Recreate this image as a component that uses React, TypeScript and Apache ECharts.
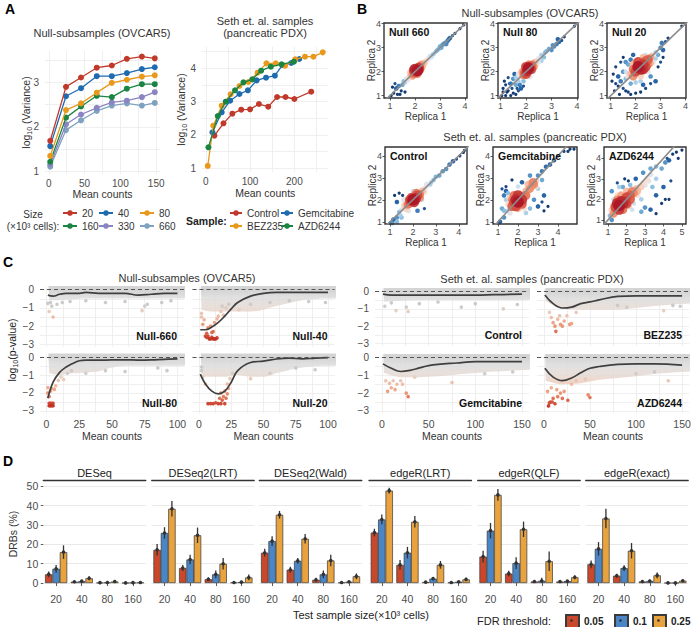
import React, { useEffect, useRef } from 'react';
import * as echarts from 'echarts';

const FONT = '"Liberation Sans", Arial, Helvetica, sans-serif';

/* ---------------- Panel A data ---------------- */
const aNullX = [2, 24, 45, 67, 88, 109, 130, 148];
const aNull20 = [1.69, 2.9, 3.11, 3.33, 3.38, 3.53, 3.58, 3.54];
const aNull40 = [1.57, 2.69, 2.87, 3.14, 3.14, 3.21, 3.3, 3.34];
const aNull80 = [1.35, 2.38, 2.53, 2.77, 2.99, 3.06, 3.13, 3.16];
const aNull160 = [1.22, 2.21, 2.46, 2.7, 2.67, 2.86, 2.96, 2.96];
const aNull330 = [1.16, 2.06, 2.28, 2.43, 2.55, 2.59, 2.67, 2.78];
const aNull660 = [1.11, 1.93, 2.15, 2.36, 2.48, 2.53, 2.48, 2.54];
const aSizeNames = ['20', '40', '80', '160', '330', '660'];

const aControlX = [19.5, 40, 60, 80, 100, 120, 141, 161, 180, 200, 238];
const aControlY = [1.98, 2.35, 2.64, 2.76, 2.77, 2.93, 2.85, 3.14, 3.14, 3.08, 3.3];
const aGemX = [15, 36, 55, 76, 95, 115, 136, 156, 173, 193, 211];
const aGemY = [2.08, 2.68, 3.03, 3.23, 3.34, 3.64, 3.72, 3.78, 4.1, 4.16, 4.28];
const aBezX = [4.5, 17, 36, 56, 76, 96, 117, 137, 158, 179, 202, 224, 243, 264];
const aBezY = [1.07, 2.28, 2.88, 3.22, 3.47, 3.59, 3.87, 4.15, 4.15, 4.08, 4.27, 4.35, 4.35, 4.48];
const aAzdX = [6, 27, 45, 66, 85, 105, 125, 147, 171, 199];
const aAzdY = [1.63, 2.57, 3.0, 3.34, 3.58, 3.67, 3.93, 4.05, 4.12, 4.2];
const aSampleNames = ['Control', 'Gemcitabine', 'BEZ235', 'AZD6244'];

/* ---------------- Panel B data: [replica1, replica2, density] ---------------- */
const bNull660 = [
  [1.05, 1.0, 0], [1.15, 1.1, 0], [1.3, 1.05, 0], [1.45, 1.2, 0], [1.6, 1.15, 0], [1.2, 1.5, 0.05], [1.25, 1.3, 0.1],
  [1.35, 1.4, 0.15], [1.5, 1.45, 0.25], [1.55, 1.6, 0.3], [1.65, 1.7, 0.4], [1.75, 1.75, 0.5], [1.85, 1.85, 0.62],
  [1.95, 1.9, 0.75], [2.05, 2.0, 0.9], [2.0, 2.1, 0.95], [2.1, 2.05, 1], [2.15, 2.15, 0.9], [1.95, 2.05, 0.85],
  [2.2, 2.1, 0.75], [2.25, 2.3, 0.65], [2.35, 2.35, 0.58], [2.45, 2.45, 0.52], [2.55, 2.55, 0.45], [2.65, 2.6, 0.4],
  [2.75, 2.75, 0.35], [2.85, 2.85, 0.3], [2.95, 2.95, 0.28], [3.05, 3.0, 0.25], [3.1, 3.12, 0.22], [3.2, 3.2, 0.2],
  [3.3, 3.28, 0.15], [3.4, 3.4, 0.1], [3.5, 3.5, 0.05], [3.6, 3.6, 0.02], [3.8, 3.8, 0], [3.95, 3.95, 0],
  [1.1, 1.35, 0], [1.4, 1.05, 0], [1.9, 1.8, 0.6], [2.2, 2.25, 0.7], [1.8, 1.95, 0.55], [2.3, 2.2, 0.6],
  [2.1, 1.9, 0.7], [1.7, 1.65, 0.45], [2.4, 2.35, 0.5], [1.6, 1.55, 0.35], [2.6, 2.65, 0.4], [2.9, 2.9, 0.3],
  [3.15, 3.15, 0.2], [3.25, 3.15, 0.18], [3.35, 3.35, 0.12], [3.0, 3.05, 0.25], [2.7, 2.7, 0.3]
];
const bNull80 = [
  [1.05, 1.0, 0], [1.1, 1.3, 0], [1.15, 1.6, 0], [1.2, 1.45, 0.02], [1.3, 1.75, 0.05], [1.25, 1.15, 0], [1.4, 1.0, 0],
  [1.5, 1.1, 0], [1.6, 1.05, 0], [1.7, 1.2, 0.05], [1.8, 1.3, 0.1], [1.4, 1.5, 0.15], [1.5, 1.7, 0.2], [1.6, 1.45, 0.25],
  [1.55, 1.9, 0.1], [1.7, 1.6, 0.35], [1.8, 1.8, 0.5], [1.85, 2.0, 0.65], [1.95, 1.95, 0.8], [2.05, 2.05, 0.95],
  [2.1, 2.15, 1], [2.0, 2.2, 0.85], [2.2, 2.1, 0.85], [2.25, 2.3, 0.7], [2.35, 2.4, 0.58], [2.15, 1.8, 0.45],
  [1.9, 2.25, 0.4], [2.5, 2.55, 0.45], [2.6, 2.7, 0.35], [2.7, 2.6, 0.3], [2.8, 2.85, 0.28], [2.9, 2.95, 0.25],
  [3.0, 2.9, 0.2], [3.05, 3.1, 0.2], [3.2, 3.15, 0.15], [3.25, 3.35, 0.1], [3.4, 3.3, 0.05], [3.5, 3.45, 0.02],
  [3.9, 3.9, 0], [1.9, 1.6, 0.3], [2.3, 2.0, 0.4], [1.9, 1.85, 0.7], [2.0, 1.9, 0.85], [2.2, 2.25, 0.8],
  [2.3, 2.2, 0.7], [2.1, 2.3, 0.7], [1.7, 1.9, 0.45], [2.4, 2.3, 0.5], [2.5, 2.4, 0.42], [1.6, 1.75, 0.35],
  [1.1, 1.15, 0], [1.2, 1.0, 0], [1.3, 1.2, 0], [1.35, 1.5, 0.05], [1.45, 1.3, 0.05], [1.65, 1.3, 0.05],
  [1.75, 1.45, 0.15], [1.9, 1.4, 0.05], [2.6, 2.45, 0.35], [2.75, 2.8, 0.3], [3.1, 3.05, 0.2], [3.3, 3.25, 0.12]
];
const bNull20 = [
  [1.05, 1.6, 0], [1.1, 1.9, 0], [1.2, 2.2, 0.02], [1.3, 1.4, 0], [1.15, 1.2, 0], [1.4, 2.4, 0.05], [1.5, 2.6, 0],
  [1.35, 1.05, 0], [1.6, 1.2, 0], [1.8, 1.05, 0], [2.0, 1.1, 0], [2.2, 1.15, 0], [2.4, 1.3, 0.02], [2.6, 1.5, 0.05],
  [2.8, 1.6, 0.1], [1.6, 1.7, 0.3], [1.5, 2.0, 0.2], [1.7, 2.3, 0.25], [1.8, 1.5, 0.25], [2.0, 1.55, 0.35],
  [1.8, 1.9, 0.6], [1.9, 2.1, 0.75], [2.0, 2.0, 0.85], [2.1, 2.2, 1], [2.2, 2.1, 0.95], [2.3, 2.3, 0.9],
  [2.4, 2.45, 0.8], [2.5, 2.3, 0.7], [2.6, 2.6, 0.65], [2.0, 2.4, 0.6], [2.2, 1.8, 0.55], [2.7, 2.4, 0.45],
  [2.4, 2.7, 0.4], [2.8, 2.8, 0.35], [2.9, 2.7, 0.25], [3.0, 3.0, 0.2], [3.1, 2.9, 0.1], [3.05, 3.2, 0.15],
  [3.2, 3.25, 0.05], [3.3, 3.4, 0.02], [3.1, 2.6, 0], [2.9, 2.2, 0], [3.85, 3.9, 0], [1.9, 2.7, 0.1],
  [1.9, 1.8, 0.7], [2.3, 2.1, 0.9], [2.1, 2.4, 0.85], [2.5, 2.5, 0.8], [2.4, 2.2, 0.85], [1.7, 1.8, 0.5],
  [1.9, 2.3, 0.6], [2.6, 2.35, 0.6], [2.3, 2.6, 0.6], [2.7, 2.7, 0.5], [1.6, 2.0, 0.4], [2.5, 2.0, 0.45],
  [2.2, 1.6, 0.35], [2.8, 2.55, 0.35], [1.4, 1.6, 0.15], [1.3, 1.8, 0.1], [1.2, 1.5, 0.02], [1.5, 1.3, 0.05],
  [1.7, 1.15, 0.02], [2.3, 1.45, 0.1], [2.6, 1.8, 0.2], [3.0, 2.4, 0.05], [1.6, 2.4, 0.2], [1.8, 2.5, 0.15]
];
const bControl = [
  [1.0, 0.95, 0.05], [1.15, 1.1, 0.1], [1.3, 1.2, 0.2], [1.4, 1.45, 0.3], [1.5, 1.55, 0.4], [1.6, 1.6, 0.5],
  [1.7, 1.75, 0.62], [1.8, 1.8, 0.75], [1.9, 1.95, 0.88], [2.0, 2.0, 1], [2.1, 2.05, 0.95], [1.95, 2.1, 0.85],
  [2.2, 2.2, 0.85], [2.3, 2.25, 0.72], [2.4, 2.4, 0.6], [2.5, 2.5, 0.5], [2.6, 2.6, 0.42], [2.75, 2.7, 0.35],
  [2.9, 2.9, 0.3], [3.0, 3.05, 0.28], [3.15, 3.1, 0.25], [3.3, 3.3, 0.22], [3.45, 3.4, 0.2], [3.6, 3.6, 0.15],
  [3.75, 3.75, 0.1], [3.9, 3.85, 0.05], [4.05, 4.0, 0.02], [4.2, 4.15, 0], [4.25, 4.25, 0], [1.2, 2.2, 0],
  [1.4, 2.3, 0], [1.55, 2.2, 0.02], [1.3, 1.9, 0.1], [2.5, 1.6, 0.05], [2.2, 1.5, 0.15], [1.5, 1.2, 0.3],
  [1.8, 1.5, 0.45], [1.6, 2.0, 0.45], [2.4, 2.0, 0.4], [2.0, 2.4, 0.4], [1.3, 1.0, 0.3], [1.1, 0.95, 0.2],
  [2.05, 1.9, 0.9], [1.85, 2.0, 0.8], [2.15, 2.3, 0.75], [2.3, 2.1, 0.7], [1.7, 1.6, 0.55], [2.5, 2.35, 0.5],
  [2.6, 2.7, 0.45], [1.6, 1.75, 0.5], [1.45, 1.3, 0.35], [2.8, 2.8, 0.35]
];
const bGemcitabine = [
  [1.1, 1.0, 0.1], [1.3, 1.2, 0.2], [1.5, 1.5, 0.35], [1.6, 1.8, 0.55], [1.7, 2.0, 0.7], [1.8, 1.9, 0.85],
  [1.9, 2.0, 0.95], [2.0, 1.9, 1], [2.1, 2.1, 0.9], [2.2, 1.8, 0.8], [1.8, 2.2, 0.75], [2.3, 2.2, 0.7],
  [2.4, 2.4, 0.62], [2.55, 2.5, 0.6], [2.7, 2.65, 0.68], [2.8, 2.7, 0.7], [2.6, 2.75, 0.55], [2.9, 2.6, 0.5],
  [2.0, 1.6, 0.6], [1.6, 1.4, 0.45], [1.4, 2.0, 0.35], [1.5, 2.3, 0.3], [1.3, 2.2, 0.15], [1.2, 2.5, 0.05],
  [1.4, 2.6, 0.02], [1.7, 2.9, 0], [2.2, 2.8, 0.1], [2.6, 3.1, 0.2], [3.0, 3.1, 0.2], [3.2, 3.3, 0.15],
  [3.4, 3.5, 0.12], [3.6, 3.6, 0.1], [3.8, 3.8, 0.08], [4.0, 4.0, 0.05], [4.3, 4.2, 0.02], [4.6, 4.3, 0],
  [4.8, 4.3, 0], [4.5, 4.2, 0], [2.8, 2.0, 0.2], [3.0, 1.7, 0.1], [3.3, 1.5, 0], [3.5, 1.7, 0], [3.2, 1.9, 0.05],
  [2.6, 1.6, 0.3], [2.4, 1.4, 0.35], [1.2, 1.6, 0.25], [1.7, 1.7, 0.8], [2.0, 2.2, 0.9], [2.2, 2.0, 0.9],
  [1.9, 1.7, 0.85], [2.4, 2.2, 0.75], [2.6, 2.5, 0.7], [2.75, 2.8, 0.72], [2.5, 2.7, 0.6], [2.9, 2.85, 0.55],
  [1.6, 2.1, 0.55], [2.3, 1.6, 0.5], [1.5, 1.8, 0.5], [3.0, 2.5, 0.35], [2.0, 2.6, 0.4], [1.3, 1.5, 0.3],
  [3.2, 2.9, 0.25], [1.4, 2.4, 0.1], [3.3, 2.2, 0.1]
];
const bAZD6244 = [
  [1.1, 1.2, 0.3], [1.2, 1.5, 0.55], [1.4, 1.6, 0.85], [1.5, 1.8, 0.95], [1.6, 1.7, 1], [1.7, 1.9, 0.95],
  [1.9, 1.9, 0.9], [2.0, 2.1, 0.85], [2.2, 2.2, 0.8], [2.3, 2.4, 0.72], [2.5, 2.5, 0.62], [2.7, 2.6, 0.55],
  [2.9, 2.8, 0.52], [3.1, 3.0, 0.5], [3.3, 3.2, 0.45], [1.3, 1.3, 0.7], [1.8, 1.5, 0.75], [2.1, 1.7, 0.6],
  [1.5, 2.2, 0.5], [1.3, 2.0, 0.4], [2.4, 1.8, 0.4], [2.6, 2.2, 0.5], [1.2, 2.4, 0.2], [1.8, 2.6, 0.25],
  [1.5, 2.8, 0.05], [1.9, 3.0, 0], [2.1, 2.9, 0], [2.5, 3.0, 0.1], [2.9, 3.3, 0.2], [3.3, 3.5, 0.25],
  [3.6, 3.6, 0.3], [3.9, 3.5, 0.25], [4.1, 3.8, 0.2], [4.3, 3.9, 0.1], [4.5, 4.2, 0], [4.7, 4.3, 0],
  [5.0, 4.4, 0], [4.8, 4.0, 0], [4.2, 4.0, 0.05], [3.0, 1.6, 0.2], [3.3, 1.5, 0.1], [3.6, 1.3, 0], [3.9, 1.8, 0],
  [4.1, 2.0, 0], [4.3, 2.0, 0], [3.6, 2.2, 0.1], [2.8, 1.4, 0.25], [4.0, 2.6, 0.1], [4.4, 2.9, 0.05],
  [1.6, 1.5, 0.9], [1.8, 1.8, 0.95], [2.0, 1.8, 0.85], [2.2, 2.0, 0.8], [2.4, 2.3, 0.7], [1.5, 2.0, 0.7],
  [1.7, 2.2, 0.65], [2.0, 2.4, 0.6], [2.6, 2.4, 0.6], [2.8, 2.6, 0.55], [3.0, 2.7, 0.45], [3.2, 2.9, 0.45],
  [1.3, 1.7, 0.6], [1.2, 1.0, 0.2], [2.3, 1.5, 0.4], [2.8, 2.0, 0.35], [3.4, 2.6, 0.3], [3.6, 3.0, 0.35],
  [1.6, 2.6, 0.35], [2.2, 2.7, 0.3]
];
const bNames = ['Null 660', 'Null 80', 'Null 20', 'Control', 'Gemcitabine', 'AZD6244'];

/* ---------------- Panel C data ---------------- */
const cxNull = [1, 5, 10, 15, 20, 25, 30, 40, 50, 60, 70, 80, 90, 100];
const cxSeth = [1, 10, 20, 30, 40, 50, 60, 80, 100, 120, 150];

const cNull660Smooth = [-0.3, -0.35, -0.25, -0.2, -0.2, -0.2, -0.15, -0.2, -0.2, -0.2, -0.3, -0.25, -0.2, -0.2];
const cNull660Top = [-0.02, -0.02, -0.02, -0.02, -0.02, -0.02, -0.02, -0.02, -0.02, -0.02, -0.02, -0.02, -0.02, -0.02];
const cNull660Low = [-0.6, -0.6, -0.55, -0.5, -0.5, -0.5, -0.5, -0.5, -0.5, -0.5, -0.55, -0.55, -0.5, -0.5];
const cNull660Pts = [[2, -1.2], [5, -1.5], [4, -0.9], [8, -0.8], [12, -0.7], [18, -0.65], [30, -0.6], [45, -0.7], [60, -0.65],
  [73, -1.15], [75, -0.9], [77, -0.8], [88, -0.7], [95, -0.6], [1, -0.75], [3, -0.7]];

const cNull40Smooth = [-2.2, -2.2, -2.05, -1.8, -1.45, -1.05, -0.7, -0.35, -0.2, -0.15, -0.15, -0.15, -0.15, -0.15];
const cNull40Top = [-1.3, -1.2, -1.1, -0.9, -0.6, -0.3, -0.1, -0.02, -0.02, -0.02, -0.02, -0.02, -0.02, -0.02];
const cNull40Low = [-2.4, -2.4, -2.3, -2.1, -1.8, -1.4, -1.0, -0.6, -0.5, -0.5, -0.5, -0.5, -0.5, -0.5];
const cNull40Pts = [[5, -2.55], [6, -2.62], [7, -2.55], [8, -2.7], [9, -2.7], [10, -2.62], [11, -2.7], [12, -2.7], [13, -2.7],
  [14, -2.65], [10, -2.35], [11, -2.3], [6, -2.4], [3, -1.9], [2, -1.5], [2, -1.3], [4, -1.65], [7, -2.1], [9, -2.0],
  [12, -1.8], [14, -1.6], [15, -1.45], [17, -1.2], [19, -1.4], [21, -1.0], [18, -0.9], [23, -0.8], [31, -1.1],
  [40, -0.8], [55, -0.7], [70, -0.6], [85, -0.65], [98, -0.7]];

const cNull80Smooth = [-2.3, -1.4, -0.85, -0.55, -0.35, -0.2, -0.17, -0.17, -0.15, -0.15, -0.16, -0.15, -0.12, -0.1];
const cNull80Top = [-1.5, -1.0, -0.5, -0.15, -0.02, -0.02, -0.02, -0.02, -0.02, -0.02, -0.02, -0.02, -0.02, -0.02];
const cNull80Low = [-2.4, -2.0, -1.4, -1.0, -0.8, -0.6, -0.5, -0.5, -0.5, -0.5, -0.5, -0.5, -0.5, -0.5];
const cNull80Pts = [[2, -2.58], [3, -2.58], [4, -2.58], [5, -2.58], [2, -2.72], [3, -2.72], [4, -2.72], [5, -2.72], [1, -2.0],
  [2, -2.2], [3, -1.9], [1, -1.7], [4, -1.75], [6, -1.8], [7, -1.6], [9, -1.3], [11, -1.1], [13, -1.25], [16, -0.9],
  [19, -0.75], [30, -0.9], [45, -0.75], [60, -0.8], [85, -0.6], [92, -0.75]];

const cNull20Smooth = [-0.95, -1.5, -1.9, -2.05, -1.9, -1.4, -0.75, -0.3, -0.22, -0.1, -0.05, -0.1, -0.05, -0.02];
const cNull20Top = [-0.4, -0.8, -1.1, -1.3, -1.1, -0.6, -0.2, -0.02, -0.02, -0.02, -0.02, -0.02, -0.02, -0.02];
const cNull20Low = [-1.5, -1.9, -2.2, -2.3, -2.2, -1.7, -1.1, -0.6, -0.5, -0.5, -0.5, -0.5, -0.5, -0.5];
const cNull20Pts = [[7, -2.6], [9, -2.6], [11, -2.6], [13, -2.55], [15, -2.6], [16, -2.3], [17, -2.6], [18, -2.4], [19, -2.2],
  [20, -2.6], [21, -2.3], [22, -2.05], [17, -2.0], [20, -1.9], [2, -0.55], [2, -0.75], [3, -1.1], [5, -1.5], [22, -1.5],
  [23, -1.75], [24, -1.2], [26, -0.9], [40, -1.2], [55, -0.9], [75, -0.6], [90, -0.7]];

const cControlSmooth = [-0.15, -0.2, -0.2, -0.2, -0.2, -0.2, -0.2, -0.2, -0.2, -0.18, -0.15];
const cControlTop = [-0.02, -0.02, -0.02, -0.02, -0.02, -0.02, -0.02, -0.02, -0.02, -0.02, -0.02];
const cControlLow = [-0.6, -0.55, -0.5, -0.5, -0.5, -0.5, -0.5, -0.5, -0.5, -0.5, -0.5];
const cControlPts = [[3, -0.85], [15, -1.1], [28, -1.15], [26, -0.9], [40, -0.7], [60, -0.6], [85, -0.9], [100, -0.7],
  [130, -1.0], [145, -0.75], [10, -0.65]];

const cBezSmooth = [-0.2, -0.7, -0.95, -0.9, -0.7, -0.6, -0.48, -0.28, -0.25, -0.25, -0.25];
const cBezTop = [-0.05, -0.3, -0.5, -0.35, -0.15, -0.05, -0.02, -0.02, -0.02, -0.02, -0.02];
const cBezLow = [-0.6, -1.3, -1.55, -1.4, -1.2, -1.0, -0.85, -0.7, -0.6, -0.6, -0.6];
const cBezPts = [[13, -2.3], [10, -1.8], [12, -2.0], [15, -1.6], [18, -1.9], [20, -2.0], [22, -1.7], [28, -1.9], [30, -1.85],
  [8, -1.5], [25, -1.4], [35, -1.2], [6, -1.2], [17, -1.4], [80, -0.8], [90, -0.9], [130, -1.1], [140, -0.8], [148, -0.85]];

const cGemSmooth = [-0.35, -0.6, -0.78, -0.72, -0.58, -0.45, -0.38, -0.3, -0.22, -0.22, -0.22];
const cGemTop = [-0.05, -0.2, -0.35, -0.25, -0.1, -0.03, -0.02, -0.02, -0.02, -0.02, -0.02];
const cGemLow = [-0.9, -1.3, -1.45, -1.3, -1.05, -0.9, -0.8, -0.7, -0.65, -0.6, -0.6];
const cGemPts = [[6, -1.9], [10, -1.7], [14, -1.8], [16, -1.5], [12, -1.3], [20, -1.3], [26, -2.0], [28, -2.2], [22, -1.5],
  [35, -1.1], [4, -1.3], [8, -1.45], [75, -1.4], [110, -0.9], [140, -0.8]];

const cAzdSmooth = [-0.6, -1.1, -1.3, -1.15, -0.85, -0.6, -0.5, -0.38, -0.35, -0.35, -0.42];
const cAzdTop = [-0.1, -0.5, -0.65, -0.45, -0.25, -0.1, -0.03, -0.02, -0.02, -0.02, -0.02];
const cAzdLow = [-1.4, -2.0, -2.1, -1.7, -1.4, -1.15, -0.95, -0.8, -0.75, -0.75, -0.8];
const cAzdPts = [[5, -2.72], [6, -2.55], [7, -2.5], [9, -2.5], [12, -2.6], [20, -2.3], [26, -2.4], [50, -2.25], [48, -2.1],
  [15, -2.2], [10, -2.3], [18, -2.0], [22, -1.9], [14, -1.8], [30, -1.5], [35, -1.3], [45, -1.2], [4, -1.9], [8, -1.7],
  [135, -1.3], [100, -0.9], [120, -0.8]];

/* ---------------- Panel D data (% DRBs, rows = FDR 0.05 / 0.1 / 0.25, cols = size) ---------------- */
const dCats = ['20', '40', '80', '160'];
const dMethods = ['DESeq', 'DESeq2(LRT)', 'DESeq2(Wald)', 'edgeR(LRT)', 'edgeR(QLF)', 'edgeR(exact)'];
const dThresholds = ['0.05', '0.1', '0.25'];
const dDESeq = [[4.5, 0.7, 0.2, 0.1], [7.4, 1.0, 0.3, 0.2], [16, 2.5, 0.8, 0.3]];
const dDESeq2LRT = [[17.2, 7.8, 2.0, 0.3], [25.9, 12.2, 4.5, 0.5], [38.4, 24.7, 10, 2.9]];
const dDESeq2Wald = [[15.7, 6.9, 1.7, 0.3], [21.7, 11.5, 4.5, 0.7], [35.3, 22.9, 11.7, 3.5]];
const dEdgeRLRT = [[26.1, 9.4, 0.5, 0.3], [32.9, 15.7, 2.3, 0.7], [47.8, 31.7, 9.4, 1.9]];
const dEdgeRQLF = [[13.7, 4.9, 0.8, 0.8], [27.1, 10.3, 1.2, 1.0], [45.6, 27.8, 11.3, 3.0]];
const dEdgeRExact = [[9.7, 3.8, 0.8, 0.1], [17.7, 7.7, 1.1, 0.1], [33.4, 16.7, 4.0, 1.2]];
const dDESeqErr = [[1.5, 0.4, 0.2, 0.1], [2, 0.5, 0.2, 0.1], [3.5, 1, 0.5, 0.2]];
const dDESeq2LRTErr = [[3, 1.5, 1, 0.3], [3, 2.5, 2, 0.5], [4, 4, 3, 1.5]];
const dDESeq2WaldErr = [[2, 1.5, 1, 0.3], [2.5, 1.5, 2, 0.5], [2, 2.5, 3, 1.5]];
const dEdgeRLRTErr = [[2, 2.5, 0.5, 0.3], [2.5, 3, 0.6, 0.3], [1.5, 3, 2, 0.8]];
const dEdgeRQLFErr = [[3, 1.5, 0.5, 0.5], [4, 3, 1.5, 0.4], [3, 4, 5, 1]];
const dEdgeRExactErr = [[2, 1, 0.4, 0.2], [3.5, 1.5, 0.5, 0.2], [5, 4, 1.5, 0.6]];

/* ---------------- helpers ---------------- */
const rgb = (c: number[]) => `rgb(${c[0]},${c[1]},${c[2]})`;
function ramp(stops: any[], t: number) {
  if (t <= stops[0][0]) return rgb(stops[0][1]);
  for (let i = 1; i < stops.length; i++) {
    if (t <= stops[i][0]) {
      const [t0, c0] = stops[i - 1];
      const [t1, c1] = stops[i];
      const f = (t - t0) / (t1 - t0);
      return rgb(c0.map((v: number, k: number) => Math.round(v + (c1[k] - v) * f)));
    }
  }
  return rgb(stops[stops.length - 1][1]);
}
const densStops = [[0, [8, 48, 107]], [0.12, [33, 102, 172]], [0.28, [120, 180, 218]], [0.42, [215, 230, 243]],
  [0.52, [250, 222, 208]], [0.66, [243, 160, 125]], [0.82, [218, 86, 66]], [1, [172, 22, 40]]];
const pStops = [[0.8, [200, 200, 200]], [1.1, [228, 205, 192]], [1.6, [240, 180, 152]], [2.1, [230, 135, 100]],
  [2.5, [210, 80, 55]], [2.7, [195, 50, 35]]];

const minusFmt = (v: any) => (Number(v) < 0 ? '\u2212' + Math.abs(Number(v)) : String(v));

function buildOption() {
  const grid: any[] = [];
  const xAxis: any[] = [];
  const yAxis: any[] = [];
  const series: any[] = [];
  const legend: any[] = [];
  const graphic: any[] = [];

  const addGrid = (left: number, top: number, width: number, height: number, extra: any = {}) => {
    grid.push({ left, top, width, height, containLabel: false, outerBoundsMode: 'none', ...extra });
    return grid.length - 1;
  };
  const text = (x: number, y: number, t: string, o: any = {}) => {
    graphic.push({
      type: 'text', x, y, rotation: o.rotation || 0, silent: true, z: 50,
      style: {
        text: t, fontSize: o.fs || 11, fontWeight: o.bold ? 'bold' : 'normal', fill: o.color || '#222',
        fontFamily: FONT, textAlign: o.align || 'center', textVerticalAlign: 'middle', rich: o.rich
      }
    });
  };
  const vAxis = (gi: number, min: number, max: number, ticks: number[], o: any = {}) => {
    const ax: any = {
      type: 'value', gridIndex: gi, min, max,
      axisLine: { show: false },
      axisTick: { show: !!o.tick, length: 2.5, customValues: o.tickVals || ticks, lineStyle: { color: '#333', width: 0.8 } },
      axisLabel: {
        show: o.label !== false, customValues: ticks, color: '#4D4D4D', fontSize: o.fs || 10, margin: o.margin ?? 4,
        fontFamily: FONT, formatter: o.fmt
      },
      splitLine: o.split === false ? { show: false } : { show: true, lineStyle: { color: o.splitColor || '#EBEBEB', width: 0.8 } },
      nameMoveOverlap: false
    };
    if (o.name) {
      ax.name = o.name;
      ax.nameLocation = 'middle';
      ax.nameGap = o.nameGap;
      ax.nameTextStyle = { fontSize: o.nameFs || 10.5, color: '#333', fontFamily: FONT, rich: o.nameRich };
    }
    return ax;
  };
  const logRich = {
    a: { fontSize: 10.5, color: '#333', fontFamily: FONT, lineHeight: 14 },
    s: { fontSize: 7, color: '#333', fontFamily: FONT, verticalAlign: 'bottom', lineHeight: 14 }
  };

  /* ---------- Panel A ---------- */
  const aColors = ['#C0392B', '#1F6BB0', '#E8991C', '#1A8442', '#8B84C2', '#7EA2BF'];
  const gA1 = addGrid(45, 51, 115, 123);
  xAxis.push(vAxis(gA1, -5.3, 155.3, [0, 50, 100, 150], { name: 'Mean counts', nameGap: 14, tickVals: [0, 25, 50, 75, 100, 125, 150] }));
  yAxis.push(vAxis(gA1, 0.945, 3.705, [1, 2, 3], { name: '{a|log}{s|10}{a| (Variance)}', nameGap: 12, nameRich: logRich, margin: 6, tickVals: [1, 1.5, 2, 2.5, 3, 3.5] }));
  [aNull20, aNull40, aNull80, aNull160, aNull330, aNull660].forEach((arr, i) => {
    series.push({
      type: 'line', name: aSizeNames[i], xAxisIndex: xAxis.length - 1, yAxisIndex: yAxis.length - 1,
      data: aNullX.map((x, j) => [x, arr[j]]), symbol: 'circle', symbolSize: 6, z: 10 - i,
      lineStyle: { width: 1.3, color: aColors[i] }, itemStyle: { color: aColors[i] }
    });
  });
  text(102, 33, 'Null-subsamples (OVCAR5)', { fs: 11, color: '#333' });

  const gA2 = addGrid(202, 46.7, 126.5, 125.6);
  xAxis.push(vAxis(gA2, -8.5, 277, [0, 100, 200], { name: 'Mean counts', nameGap: 15, tickVals: [0, 50, 100, 150, 200, 250] }));
  yAxis.push(vAxis(gA2, 0.88, 4.65, [1, 2, 3, 4], { name: '{a|log}{s|10}{a| (Variance)}', nameGap: 14, nameRich: logRich, margin: 6, tickVals: [1, 1.5, 2, 2.5, 3, 3.5, 4, 4.5] }));
  const sampleColors = ['#C0392B', '#1F6BB0', '#E8991C', '#1A8442'];
  [[aControlX, aControlY], [aGemX, aGemY], [aBezX, aBezY], [aAzdX, aAzdY]].forEach(([xs, ys], i) => {
    series.push({
      type: 'line', name: aSampleNames[i], xAxisIndex: xAxis.length - 1, yAxisIndex: yAxis.length - 1,
      data: xs.map((x: number, j: number) => [x, ys[j]]), symbol: 'circle', symbolSize: 6, z: 5 + i,
      lineStyle: { width: 1.3, color: sampleColors[i] }, itemStyle: { color: sampleColors[i] }
    });
  });
  text(265, 21, 'Seth et. al. samples', { fs: 11, color: '#333' });
  text(265, 33, '(pancreatic PDX)', { fs: 11, color: '#333' });

  // legends for A
  const legTxt = { fontSize: 10, color: '#333', fontFamily: FONT };
  const sizePos = [[62, 208], [98, 208], [139, 208], [62, 221], [98, 221], [139, 221]];
  aSizeNames.forEach((n, i) => {
    legend.push({ data: [n], left: sizePos[i][0], top: sizePos[i][1], padding: 0, itemWidth: 14, itemHeight: 7, selectedMode: false, textStyle: legTxt });
  });
  const samplePos = [[229, 208], [280, 208], [229, 221], [280, 221]];
  aSampleNames.forEach((n, i) => {
    legend.push({ data: [n], left: samplePos[i][0], top: samplePos[i][1], padding: 0, itemWidth: 12, itemHeight: 7, selectedMode: false, textStyle: legTxt });
  });
  text(33, 214, 'Size', { fs: 10, color: '#333' });
  text(33, 226, '(\u00d710\u00b3 cells):', { fs: 10, color: '#333' });
  text(186, 221, 'Sample:', { fs: 10.5, bold: true, align: 'left', color: '#222' });

  /* ---------- Panel B ---------- */
  const bLayout = [
    { left: 384, top: 23, w: 83, h: 75, xr: [0.76, 4.08], yr: [0.9, 4.03], xt: [1, 2, 3, 4], yt: [1, 2, 3, 4] },
    { left: 498, top: 23, w: 80, h: 75, xr: [0.9, 4.04], yr: [0.9, 4.03], xt: [1, 2, 3, 4], yt: [1, 2, 3, 4] },
    { left: 607, top: 23, w: 79, h: 75, xr: [0.85, 4.02], yr: [0.9, 4.03], xt: [1, 2, 3, 4], yt: [1, 2, 3, 4] },
    { left: 385, top: 147, w: 82, h: 77, xr: [0.78, 4.36], yr: [0.9, 4.4], xt: [1, 2, 3, 4], yt: [1, 2, 3, 4] },
    { left: 493, top: 147, w: 84, h: 77, xr: [0.75, 4.95], yr: [0.9, 4.4], xt: [1, 2, 3, 4], yt: [1, 2, 3, 4] },
    { left: 604, top: 147, w: 82, h: 77, xr: [0.78, 5.22], yr: [0.8, 4.55], xt: [1, 2, 3, 4, 5], yt: [1, 2, 3, 4] }
  ];
  const bData = [bNull660, bNull80, bNull20, bControl, bGemcitabine, bAZD6244];
  bLayout.forEach((L, i) => {
    const g = addGrid(L.left, L.top, L.w, L.h, { show: true, borderColor: '#333', borderWidth: 1.4, backgroundColor: 'transparent', z: 3 });
    xAxis.push(vAxis(g, L.xr[0], L.xr[1], L.xt, { tick: true, split: false, fs: 9, margin: 3, name: 'Replica 1', nameGap: 13, nameFs: 10 }));
    yAxis.push(vAxis(g, L.yr[0], L.yr[1], L.yt, { tick: true, split: false, fs: 9, margin: 3, name: 'Replica 2', nameGap: 8, nameFs: 10 }));
    const xi = xAxis.length - 1, yi = yAxis.length - 1;
    const pts = bData[i].slice().sort((a, b) => a[2] - b[2]);
    series.push({
      type: 'scatter', xAxisIndex: xi, yAxisIndex: yi, data: pts, silent: true, z: 2,
      symbolSize: (v: number[]) => (v[2] < 0.08 ? 3.2 : v[2] < 0.45 ? 4.6 : 5.5 + (v[2] - 0.45) * 11),
      itemStyle: { color: (p: any) => ramp(densStops, p.value[2]), opacity: 0.95 }
    });
    series.push({
      type: 'line', xAxisIndex: xi, yAxisIndex: yi, data: [[0, 0], [6, 6]], symbol: 'none', silent: true, z: 4, clip: true,
      lineStyle: { color: '#8C8C8C', width: 1.6 }
    });
    text(L.left + 5, L.top + 9, bNames[i], { fs: 10.5, bold: true, align: 'left', color: '#111' });
  });
  text(530, 13, 'Null-subsamples (OVCAR5)', { fs: 11, color: '#333' });
  text(535, 137, 'Seth et. al. samples (pancreatic PDX)', { fs: 11, color: '#333' });

  /* ---------- Panel C ---------- */
  const nullX = { xr: [-5, 105], xt: [0, 25, 50, 75, 100], xm: [0, 12.5, 25, 37.5, 50, 62.5, 75, 87.5, 100] };
  const sethX = { xr: [-7.5, 157.5], xt: [0, 50, 100, 150], xm: [0, 25, 50, 75, 100, 125, 150] };
  const cLayout = [
    { left: 40, top: 287, w: 144, h: 60, ...nullX, yLab: true, xLab: false },
    { left: 192.5, top: 287, w: 142, h: 60, ...nullX, yLab: false, xLab: false },
    { left: 40, top: 354.5, w: 144, h: 59, ...nullX, yLab: true, xLab: true },
    { left: 192.5, top: 354.5, w: 142, h: 59, ...nullX, yLab: false, xLab: true },
    { left: 375, top: 289, w: 154, h: 57, ...sethX, yLab: true, xLab: false },
    { left: 537, top: 289, w: 152, h: 57, ...sethX, yLab: false, xLab: false },
    { left: 375, top: 355, w: 154, h: 58.5, ...sethX, yLab: true, xLab: true },
    { left: 537, top: 355, w: 152, h: 58.5, ...sethX, yLab: false, xLab: true }
  ];
  const cPanels = [
    { label: 'Null-660', cx: cxNull, sm: cNull660Smooth, top: cNull660Top, low: cNull660Low, pts: cNull660Pts },
    { label: 'Null-40', cx: cxNull, sm: cNull40Smooth, top: cNull40Top, low: cNull40Low, pts: cNull40Pts },
    { label: 'Null-80', cx: cxNull, sm: cNull80Smooth, top: cNull80Top, low: cNull80Low, pts: cNull80Pts },
    { label: 'Null-20', cx: cxNull, sm: cNull20Smooth, top: cNull20Top, low: cNull20Low, pts: cNull20Pts },
    { label: 'Control', cx: cxSeth, sm: cControlSmooth, top: cControlTop, low: cControlLow, pts: cControlPts },
    { label: 'BEZ235', cx: cxSeth, sm: cBezSmooth, top: cBezTop, low: cBezLow, pts: cBezPts },
    { label: 'Gemcitabine', cx: cxSeth, sm: cGemSmooth, top: cGemTop, low: cGemLow, pts: cGemPts },
    { label: 'AZD6244', cx: cxSeth, sm: cAzdSmooth, top: cAzdTop, low: cAzdLow, pts: cAzdPts }
  ];
  const cYr = [-3.15, 0.15];
  cLayout.forEach((L, i) => {
    const P = cPanels[i];
    const g = addGrid(L.left, L.top, L.w, L.h);
    xAxis.push(vAxis(g, L.xr[0], L.xr[1], L.xt, {
      label: L.xLab, tickVals: L.xm, fs: 10.5, margin: 5,
      name: L.xLab ? 'Mean counts' : undefined, nameGap: 17
    }));
    yAxis.push(vAxis(g, cYr[0], cYr[1], [-3, -2, -1, 0], {
      label: L.yLab, fmt: minusFmt, fs: 10, margin: 6, tickVals: [-3, -2.5, -2, -1.5, -1, -0.5, 0]
    }));
    const xi = xAxis.length - 1, yi = yAxis.length - 1;
    const py = (v: number) => L.top + ((cYr[1] - v) / (cYr[1] - cYr[0])) * L.h;
    const grad = new echarts.graphic.LinearGradient(0, py(0), 0, py(-2.5), [
      { offset: 0, color: '#CDCDCD' }, { offset: 0.18, color: '#DCDCDC' }, { offset: 0.4, color: '#E6D9D2' },
      { offset: 0.7, color: '#F2C3AC' }, { offset: 1, color: '#ECA88B' }
    ], true);
    const stackId = 'band' + i;
    series.push({
      type: 'line', xAxisIndex: xi, yAxisIndex: yi, stack: stackId, stackStrategy: 'all', silent: true, z: 1,
      data: P.cx.map((x, j) => [x, P.top[j]]), symbol: 'none', smooth: 0.3, lineStyle: { opacity: 0 }
    });
    series.push({
      type: 'line', xAxisIndex: xi, yAxisIndex: yi, stack: stackId, stackStrategy: 'all', silent: true, z: 1,
      data: P.cx.map((x, j) => [x, P.low[j] - P.top[j]]), symbol: 'none', smooth: 0.3, lineStyle: { opacity: 0 },
      areaStyle: { color: grad, opacity: 0.85 }
    });
    series.push({
      type: 'scatter', xAxisIndex: xi, yAxisIndex: yi, silent: true, z: 2, symbolSize: 3.6,
      data: P.pts, itemStyle: { color: (p: any) => ramp(pStops, -p.value[1]), opacity: 0.95 }
    });
    series.push({
      type: 'line', xAxisIndex: xi, yAxisIndex: yi, silent: true, z: 4, smooth: 0.4, symbol: 'none',
      data: P.cx.map((x, j) => [x, P.sm[j]]), lineStyle: { color: '#3F3F3F', width: 1.7 },
      markLine: {
        silent: true, symbol: 'none', label: { show: false },
        lineStyle: { type: [4, 3], color: '#555', width: 1 }, data: [{ yAxis: 0 }]
      }
    });
    text(L.left + L.w - 7, L.top + L.h - 11, P.label, { fs: 10.5, bold: true, align: 'right', color: '#111' });
  });
  text(187, 278, 'Null-subsamples (OVCAR5)', { fs: 11, color: '#333' });
  text(532, 279, 'Seth et. al. samples (pancreatic PDX)', { fs: 11, color: '#333' });
  text(12, 350, '{a|log}{s|10}{a|(p-value)}', { rotation: Math.PI / 2, rich: logRich });

  /* ---------- Panel D ---------- */
  const dColors = ['#C9472B', '#4A85C6', '#E8A23E'];
  const dVals = [dDESeq, dDESeq2LRT, dDESeq2Wald, dEdgeRLRT, dEdgeRQLF, dEdgeRExact];
  const dErrs = [dDESeqErr, dDESeq2LRTErr, dDESeq2WaldErr, dEdgeRLRTErr, dEdgeRQLFErr, dEdgeRExactErr];
  const BAR_W = 7.4;
  const dTop = 480, dH = 108, dW = 102.5;
  const dLefts = [43.3, 151.7, 259.3, 369, 477.7, 585.7];
  dMethods.forEach((m, i) => {
    const g = addGrid(dLefts[i], dTop, dW, dH);
    xAxis.push({
      type: 'category', gridIndex: g, data: dCats, axisLine: { show: false },
      axisTick: { show: true, alignWithLabel: true, length: 3, lineStyle: { color: '#333', width: 0.8 } },
      axisLabel: { color: '#4D4D4D', fontSize: 10.5, margin: 5, fontFamily: FONT }, splitLine: { show: false }
    });
    const xi = xAxis.length - 1;
    xAxis.push({
      type: 'category', gridIndex: g, position: 'top', data: dCats,
      axisLine: { show: true, lineStyle: { color: '#333', width: 1.3 } }, axisTick: { show: false }, axisLabel: { show: false }
    });
    yAxis.push(vAxis(g, -2.55, 53.3, [0, 10, 20, 30, 40, 50], {
      label: i === 0, tick: i === 0, fs: 10.5, margin: 5, splitColor: '#E3E3E3',
      name: i === 0 ? 'DRBs (%)' : undefined, nameGap: 25
    }));
    const yi = yAxis.length - 1;
    dThresholds.forEach((t, k) => {
      series.push({
        type: 'bar', name: t, xAxisIndex: xi, yAxisIndex: yi, data: dVals[i][k], barWidth: BAR_W, barGap: '0%', z: 3,
        itemStyle: { color: dColors[k], borderColor: '#3A3A3A', borderWidth: 0.7 }
      });
    });
    const errRows: number[][] = [];
    dThresholds.forEach((_, k) => {
      dCats.forEach((__, c) => {
        const v = dVals[i][k][c], e = dErrs[i][k][c];
        errRows.push([c, k, Math.max(0, v - e), v + e, v]);
      });
    });
    series.push({
      type: 'custom', xAxisIndex: xi, yAxisIndex: yi, data: errRows, z: 6, silent: true,
      encode: { x: 0, y: [2, 3] },
      renderItem: (params: any, api: any) => {
        const c = api.value(0), k = api.value(1);
        const lo = api.coord([c, api.value(2)]);
        const hi = api.coord([c, api.value(3)]);
        const mid = api.coord([c, api.value(4)]);
        const dx = (k - 1) * BAR_W;
        return {
          type: 'group',
          children: [
            { type: 'line', shape: { x1: lo[0] + dx, y1: lo[1], x2: hi[0] + dx, y2: hi[1] }, style: { stroke: '#333', lineWidth: 1.3 } },
            { type: 'circle', shape: { cx: mid[0] + dx, cy: mid[1], r: 1.8 }, style: { fill: '#333' } }
          ]
        };
      }
    });
    text(dLefts[i] + dW / 2, 473, m, { fs: 11, color: '#222' });
  });
  text(361, 615, 'Test sample size(\u00d710\u00b3 cells)', { fs: 11, color: '#222' });
  text(477, 620.5, 'FDR threshold:', { fs: 11, align: 'left', color: '#222' });
  const dLegPos = [565, 614, 652];
  dThresholds.forEach((t, k) => {
    legend.push({
      data: [t], left: dLegPos[k], top: 614, padding: 0, itemWidth: 13, itemHeight: 13, icon: 'rect', selectedMode: false,
      textStyle: { fontSize: 10, fontWeight: 'bold', color: '#222', fontFamily: FONT }
    });
    graphic.push({ type: 'circle', shape: { cx: dLegPos[k] + 6.5, cy: 620.5, r: 1.3 }, style: { fill: '#333' }, z: 60, silent: true });
  });

  /* ---------- panel tags ---------- */
  text(5, 9, 'A', { fs: 14, bold: true, align: 'left', color: '#000' });
  text(357, 9, 'B', { fs: 14, bold: true, align: 'left', color: '#000' });
  text(3, 262, 'C', { fs: 14, bold: true, align: 'left', color: '#000' });
  text(3, 461, 'D', { fs: 14, bold: true, align: 'left', color: '#000' });

  return {
    animation: false,
    backgroundColor: '#ffffff',
    textStyle: { fontFamily: FONT },
    grid, xAxis, yAxis, series, legend, graphic
  };
}

export default function App() {
  const ref = useRef<HTMLDivElement>(null);
  useEffect(() => {
    document.body.style.margin = '0';
    const chart = echarts.init(ref.current as HTMLDivElement, null, { renderer: 'svg' });
    chart.setOption(buildOption() as any);
    return () => chart.dispose();
  }, []);
  return <div ref={ref} style={{ position: 'absolute', left: 0, top: 0, width: 691, height: 627 }} />;
}
